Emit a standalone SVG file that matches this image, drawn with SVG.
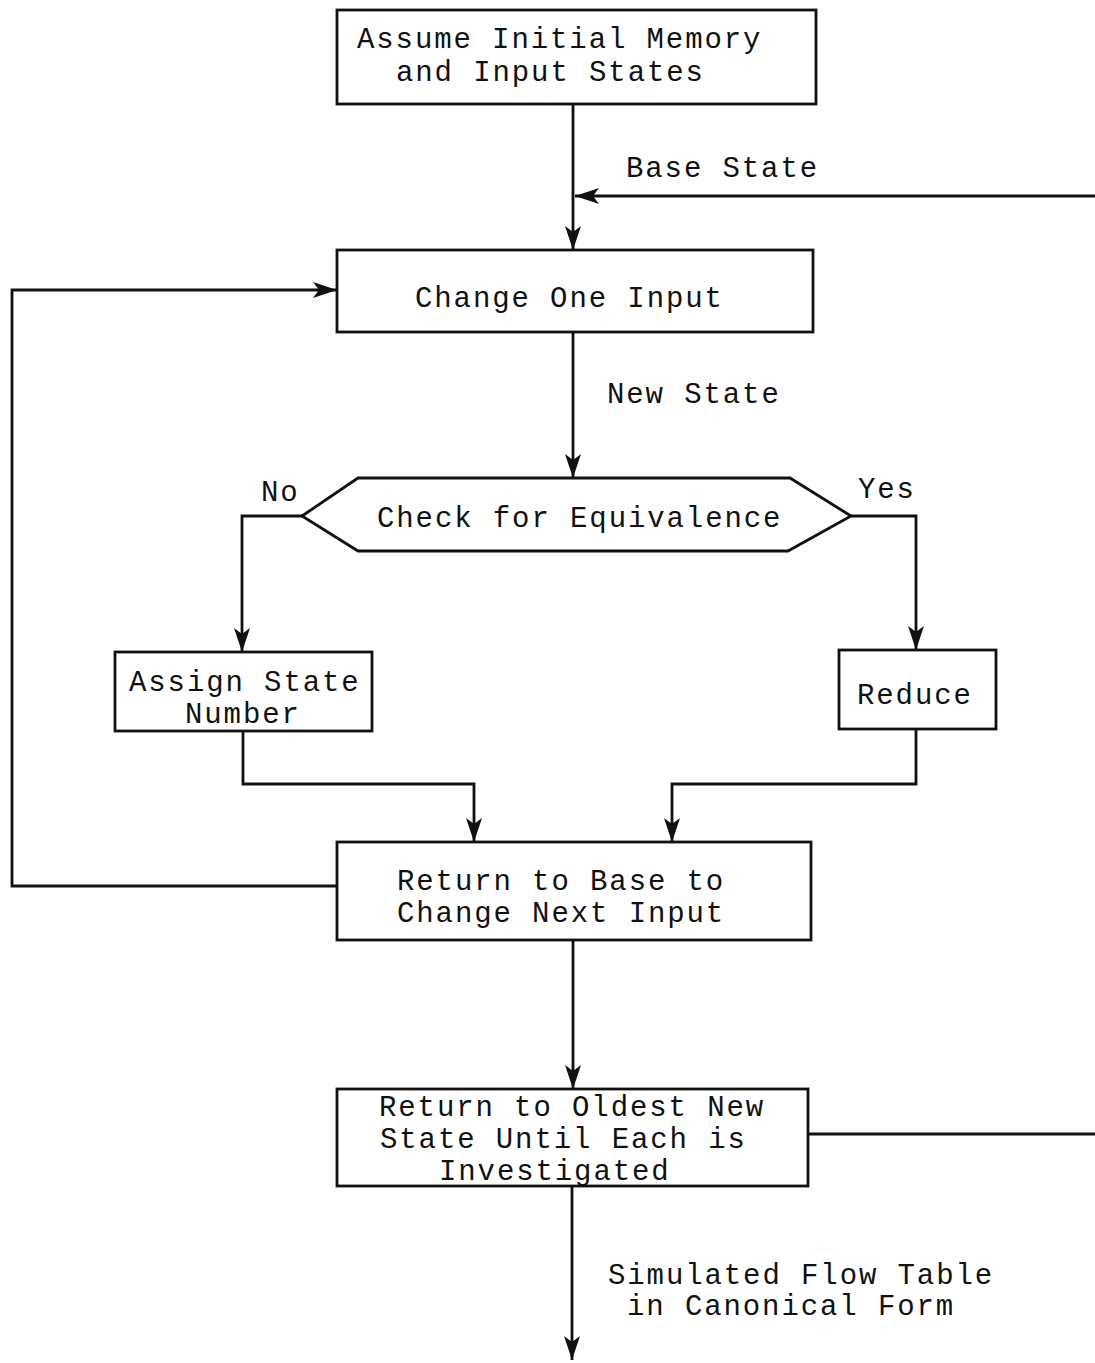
<svg xmlns="http://www.w3.org/2000/svg" width="1095" height="1363" viewBox="0 0 1095 1363">
<defs>
<style>
.box{fill:#fff;stroke:#111;stroke-width:2.8}
.ln{fill:none;stroke:#111;stroke-width:2.8}
text{font-family:"Liberation Mono","Courier New",monospace;font-size:29px;fill:#111;letter-spacing:1.9px}
</style>
<marker id="ah" markerUnits="userSpaceOnUse" markerWidth="26" markerHeight="18" viewBox="0 0 26 18" refX="24" refY="9" orient="auto">
<path d="M0,1 L24,9 L0,17 L6,9 z" fill="#111"/>
</marker>
</defs>
<rect width="1095" height="1363" fill="#fff"/>
<g id="connectors">
<line class="ln" x1="573" y1="104" x2="573" y2="250" marker-end="url(#ah)"/>
<line class="ln" x1="1095" y1="196" x2="575" y2="196" marker-end="url(#ah)"/>
<polyline class="ln" points="337,886 12,886 12,290 337,290" marker-end="url(#ah)"/>
<line class="ln" x1="573" y1="332" x2="573" y2="478" marker-end="url(#ah)"/>
<polyline class="ln" points="302,516 242,516 242,652" marker-end="url(#ah)"/>
<polyline class="ln" points="851,516 916,516 916,650" marker-end="url(#ah)"/>
<polyline class="ln" points="243,731 243,784 474,784 474,842" marker-end="url(#ah)"/>
<polyline class="ln" points="916,729 916,784 672,784 672,842" marker-end="url(#ah)"/>
<line class="ln" x1="573" y1="940" x2="573" y2="1089" marker-end="url(#ah)"/>
<line class="ln" x1="808" y1="1134" x2="1095" y2="1134"/>
<line class="ln" x1="572" y1="1186" x2="572" y2="1360" marker-end="url(#ah)"/>
<text x="626" y="177">Base State</text>
<text x="607" y="403">New State</text>
<text x="261" y="501">No</text>
<text x="858" y="498">Yes</text>
<text x="608" y="1284">Simulated Flow Table</text>
<text x="627" y="1315">in Canonical Form</text>
</g>
<g id="n1">
<rect class="box" x="337" y="10" width="479" height="94"/>
<text x="357" y="48">Assume Initial Memory</text>
<text x="396" y="81">and Input States</text>
</g>
<g id="n2">
<rect class="box" x="337" y="250" width="476" height="82"/>
<text x="415" y="307">Change One Input</text>
</g>
<g id="n3">
<polygon class="box" points="302,516 358,478 790,478 851,516 788,551 358,551"/>
<text x="377" y="527">Check for Equivalence</text>
</g>
<g id="n4">
<rect class="box" x="115" y="652" width="257" height="79"/>
<text x="129" y="691">Assign State</text>
<text x="185" y="723">Number</text>
</g>
<g id="n5">
<rect class="box" x="839" y="650" width="157" height="79"/>
<text x="857" y="704">Reduce</text>
</g>
<g id="n6">
<rect class="box" x="337" y="842" width="474" height="98"/>
<text x="397" y="890">Return to Base to</text>
<text x="397" y="922">Change Next Input</text>
</g>
<g id="n7">
<rect class="box" x="337" y="1089" width="471" height="97"/>
<text x="379" y="1116">Return to Oldest New</text>
<text x="380" y="1148">State Until Each is</text>
<text x="439" y="1180">Investigated</text>
</g>
</svg>
